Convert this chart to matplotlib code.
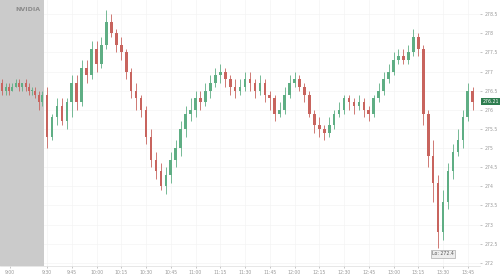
import matplotlib.pyplot as plt

# minutes from 9:30 (pre-market squeezed into the grey zone)
pre_t = [-27, -25, -23, -21, -19, -17, -15, -13, -11, -9, -7, -5, -3]
pre_o = [276.7, 276.5, 276.6, 276.5, 276.6, 276.7, 276.6, 276.7, 276.6, 276.5, 276.5, 276.4, 276.2]
pre_h = [276.8, 276.7, 276.7, 276.7, 276.8, 276.8, 276.7, 276.8, 276.7, 276.6, 276.6, 276.5, 276.5]
pre_l = [276.4, 276.4, 276.4, 276.5, 276.6, 276.5, 276.5, 276.5, 276.4, 276.4, 276.3, 276.0, 276.1]
pre_c = [276.5, 276.6, 276.5, 276.6, 276.7, 276.6, 276.7, 276.6, 276.5, 276.5, 276.4, 276.2, 276.4]

# regular session, 3-minute candles
opens = [276.4, 275.3, 275.8, 276.1, 275.7, 276.2, 276.7, 276.2, 277.1, 276.9,
         277.6, 277.2, 277.7, 278.3, 278.0, 277.7, 277.5, 277.0, 276.5, 276.3,
         276.0, 275.3, 274.7, 274.4, 274.0, 274.3, 274.7, 275.0, 275.5, 275.9,
         276.0, 276.3, 276.2, 276.5, 276.7, 276.9, 277.0, 276.8, 276.6, 276.5,
         276.6, 276.8, 276.7, 276.5, 276.7, 276.4, 276.3, 275.9, 276.0, 276.4,
         276.7, 276.8, 276.6, 276.4, 275.9, 275.6, 275.5, 275.4, 275.6, 275.9,
         276.0, 276.3, 276.2, 276.1, 276.2, 276.0, 275.9, 276.3, 276.5, 276.8,
         277.0, 277.3, 277.4, 277.3, 277.5, 277.9, 277.6, 275.9, 274.8, 274.1,
         272.8, 273.6, 274.4, 274.9, 275.2, 275.8, 276.5]
highs = [276.6, 275.9, 276.3, 276.3, 276.3, 276.9, 276.9, 277.3, 277.3, 277.8,
         277.8, 277.9, 278.6, 278.5, 278.1, 277.9, 277.6, 277.1, 276.7, 276.4,
         276.1, 275.5, 274.9, 274.6, 274.5, 274.9, 275.2, 275.7, 276.1, 276.3,
         276.5, 276.5, 276.7, 276.9, 277.1, 277.2, 277.1, 276.9, 276.8, 276.8,
         277.0, 277.0, 276.8, 276.9, 276.8, 276.5, 276.4, 276.2, 276.6, 276.9,
         277.0, 276.9, 276.7, 276.5, 276.0, 275.8, 275.6, 275.8, 276.0, 276.2,
         276.4, 276.4, 276.3, 276.4, 276.3, 276.1, 276.4, 276.7, 277.0, 277.2,
         277.5, 277.6, 277.6, 277.7, 278.1, 278.0, 277.7, 276.0, 275.2, 274.3,
         273.9, 274.6, 275.1, 275.5, 276.0, 276.7, 276.6]
lows = [275.0, 275.2, 275.6, 275.6, 275.5, 275.8, 276.0, 276.1, 276.7, 276.8,
        277.0, 277.1, 277.6, 277.9, 277.5, 277.3, 276.8, 276.3, 276.0, 275.8,
        275.1, 274.5, 274.2, 273.9, 273.8, 274.1, 274.5, 274.8, 275.3, 275.7,
        275.8, 276.0, 276.1, 276.3, 276.6, 276.7, 276.6, 276.4, 276.3, 276.4,
        276.5, 276.5, 276.3, 276.4, 276.2, 276.0, 275.7, 275.8, 275.9, 276.3,
        276.6, 276.5, 276.2, 275.8, 275.4, 275.3, 275.2, 275.3, 275.5, 275.8,
        275.9, 276.0, 275.9, 276.0, 275.8, 275.7, 275.8, 276.2, 276.4, 276.7,
        276.9, 277.2, 277.2, 277.2, 277.4, 277.4, 275.6, 274.5, 273.6, 272.4,
        272.6, 273.4, 274.2, 274.8, 275.0, 275.7, 276.0]
closes = [275.3, 275.8, 276.1, 275.7, 276.2, 276.7, 276.2, 277.1, 276.9, 277.6,
          277.2, 277.7, 278.3, 278.0, 277.7, 277.5, 277.0, 276.5, 276.3, 276.0,
          275.3, 274.7, 274.4, 274.0, 274.3, 274.7, 275.0, 275.5, 275.9, 276.0,
          276.3, 276.2, 276.5, 276.7, 276.9, 277.0, 276.8, 276.6, 276.5, 276.6,
          276.8, 276.7, 276.5, 276.7, 276.4, 276.3, 275.9, 276.0, 276.4, 276.7,
          276.8, 276.6, 276.4, 275.9, 275.6, 275.5, 275.4, 275.6, 275.9, 276.0,
          276.3, 276.2, 276.1, 276.2, 276.0, 275.9, 276.3, 276.5, 276.8, 277.0,
          277.3, 277.4, 277.3, 277.5, 277.9, 277.6, 275.9, 274.8, 274.1, 272.8,
          273.6, 274.4, 274.9, 275.2, 275.8, 276.5, 276.21]
times = list(range(0, 3 * len(closes), 3))

tick_pos = [-22.4, 0, 15, 30, 45, 60, 75, 90, 105, 120, 135, 150, 165, 180, 195, 210, 225, 240, 255]
tick_lab = ['9:00', '9:30', '9:45', '10:00', '10:15', '10:30', '10:45', '11:00', '11:15', '11:30',
            '11:45', '12:00', '12:15', '12:30', '12:45', '13:00', '13:15', '13:30', '13:45']
price_ticks = [272, 272.5, 273, 273.5, 274, 274.5, 275, 275.5, 276, 276.5, 277, 277.5, 278, 278.5]

up_col = '#5fae84'
dn_col = '#c8645e'

fig = plt.figure(figsize=(5, 2.75), dpi=100)
ax = fig.add_axes([0, 0.033, 0.96, 0.967])
ax.set_axisbelow(True)

ax.axvspan(-30, -1.8, color='#cbcbcb', lw=0, zorder=1)

def candles(t, o, h, l, c, width):
    cols = [up_col if cc >= oo else dn_col for oo, cc in zip(o, c)]
    ax.vlines(t, l, h, colors=cols, lw=0.6, zorder=2)
    bottoms = [min(oo, cc) for oo, cc in zip(o, c)]
    heights = [max(abs(cc - oo), 0.03) for oo, cc in zip(o, c)]
    ax.bar(t, heights, width=width, bottom=bottoms, color=cols, lw=0, zorder=3)

candles(pre_t, pre_o, pre_h, pre_l, pre_c, 1.2)
candles(times, opens, highs, lows, closes, 1.6)

ax.set_xlim(-28.5, 262.4)
ax.set_ylim(271.92, 278.87)
ax.set_xticks(tick_pos)
ax.set_xticklabels(tick_lab)
ax.set_yticks(price_ticks)
ax.set_yticklabels([f'{p:g}' for p in price_ticks])
ax.yaxis.tick_right()
ax.tick_params(axis='both', labelsize=3.3, colors='#999999', length=1.5, width=0.4, pad=1.5)
ax.grid(True, color='#f4f4f4', lw=0.5)
for s in ax.spines.values():
    s.set_visible(False)
ax.spines['bottom'].set_visible(True)
ax.spines['bottom'].set_color('#dddddd')
ax.spines['bottom'].set_linewidth(0.5)

# last price tag and low marker
ax.text(1.005, (closes[-1] - 271.92) / (278.87 - 271.92), f'{closes[-1]:.2f}', transform=ax.transAxes,
        fontsize=3.3, color='white', va='center', ha='left',
        bbox=dict(boxstyle='square,pad=0.25', fc='#2e7d4f', ec='none'))
ax.text(times[79] + 3, min(lows) - 0.1, f'Lo: {min(lows)}', fontsize=3.3, color='#555555',
        ha='center', va='top', bbox=dict(boxstyle='square,pad=0.3', fc='#eeeeee', ec='#999999', lw=0.4))

fig.text(0.03, 0.965, 'NVIDIA', fontsize=4.5, color='#8a8a8a', fontweight='bold', va='center')

fig.savefig('out.png', dpi=100)
